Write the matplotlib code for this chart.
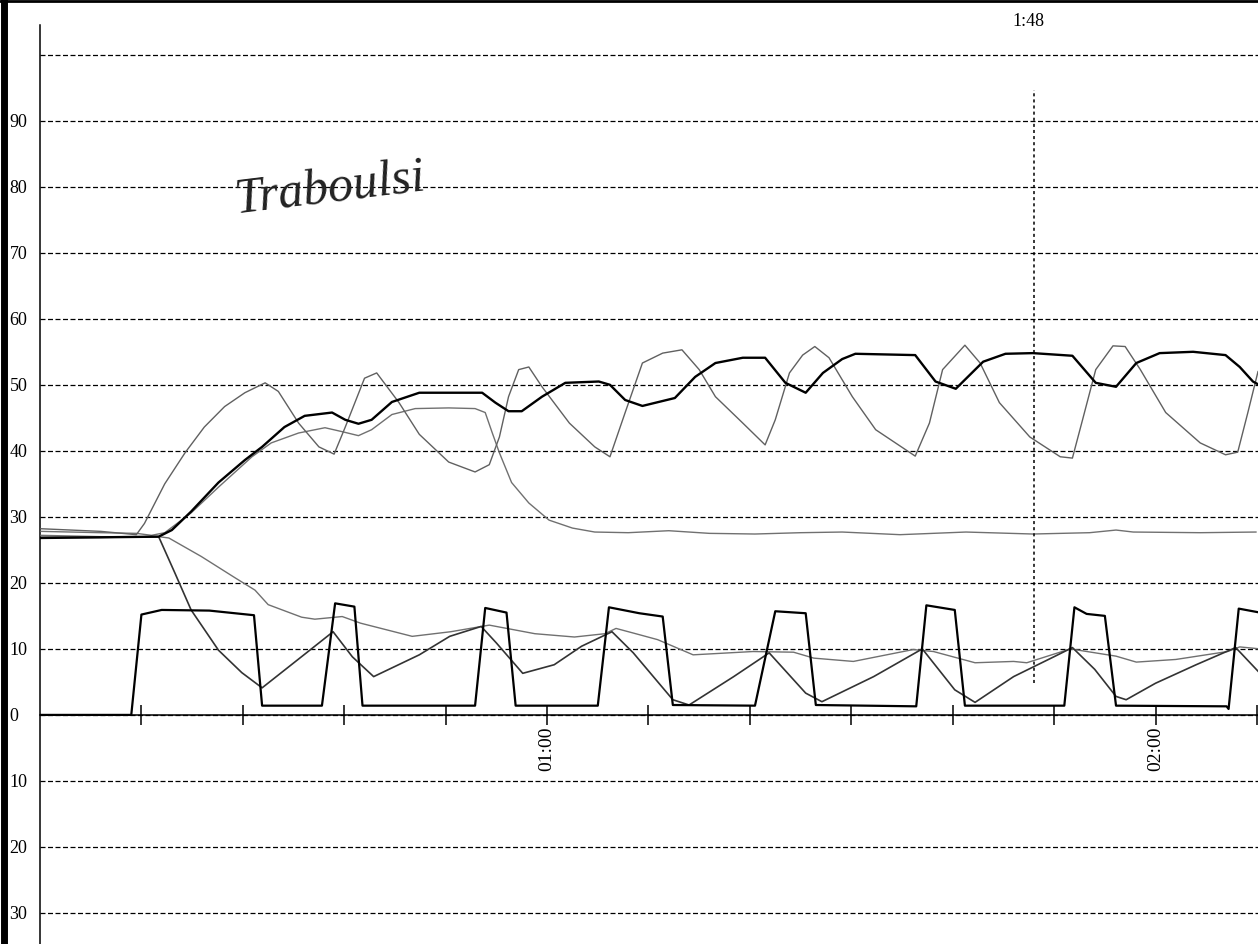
import matplotlib
matplotlib.use("Agg")
import matplotlib.pyplot as plt
from matplotlib.lines import Line2D

# --- recorded traces (time in minutes, value in chart units) ---
thick_upper_t = [10.1, 16.0, 21.7, 23.0, 24.9, 27.6, 30.2, 31.9, 34.1, 36.1,
                 38.8, 40.1, 41.4, 42.7, 44.7, 47.4, 50.3, 53.6, 54.9, 56.2,
                 57.5, 59.5, 61.8, 65.1, 66.2, 67.7, 69.4, 72.6, 74.6, 76.6,
                 79.3, 81.5, 83.5, 85.5, 87.2, 89.1, 90.4, 96.3, 98.3, 100.3,
                 103.0, 105.2, 107.9, 111.8, 114.1, 116.1, 118.1, 120.4, 123.7, 126.9,
                 128.3, 129.6, 130.2]
thick_upper_v = [26.8, 26.9, 27.0, 28.0, 30.8, 35.2, 38.6, 40.6, 43.6, 45.3,
                 45.8, 44.7, 44.1, 44.7, 47.4, 48.8, 48.8, 48.8, 47.3, 46.0,
                 46.0, 48.2, 50.3, 50.5, 50.0, 47.7, 46.8, 48.0, 51.2, 53.3,
                 54.1, 54.1, 50.3, 48.8, 51.8, 53.9, 54.7, 54.5, 50.5, 49.4,
                 53.5, 54.7, 54.8, 54.4, 50.3, 49.7, 53.3, 54.8, 55.0, 54.5,
                 52.7, 50.5, 50.0]

saw_upper_t = [10.1, 16.0, 19.5, 20.3, 22.3, 24.3, 26.2, 28.2, 30.2, 32.2,
               33.5, 35.5, 37.5, 39.0, 40.1, 42.0, 43.2, 45.4, 47.4, 50.3,
               52.9, 54.3, 55.3, 56.2, 57.2, 58.2, 59.5, 62.2, 64.7, 66.2,
               67.7, 69.4, 71.4, 73.3, 75.0, 76.6, 79.3, 81.5, 82.5, 83.9,
               85.2, 86.4, 87.8, 90.1, 92.4, 96.3, 97.7, 99.0, 101.2, 102.7,
               104.6, 107.6, 110.6, 111.8, 112.8, 114.1, 115.8, 117.0, 118.5, 121.0,
               124.4, 126.9, 128.1, 129.1, 130.1]
saw_upper_v = [28.2, 27.8, 27.3, 29.0, 35.0, 39.7, 43.6, 46.7, 48.8, 50.3,
               49.0, 44.2, 40.6, 39.5, 43.6, 51.0, 51.8, 47.3, 42.5, 38.3,
               36.8, 37.9, 42.1, 48.2, 52.3, 52.7, 49.7, 44.2, 40.6, 39.1,
               45.8, 53.3, 54.8, 55.3, 52.3, 48.2, 44.2, 40.9, 44.7, 51.8,
               54.5, 55.8, 54.1, 48.2, 43.2, 39.2, 44.2, 52.3, 56.0, 53.3,
               47.3, 42.1, 39.1, 38.9, 44.7, 52.3, 55.9, 55.8, 52.3, 45.8,
               41.2, 39.4, 39.8, 45.8, 52.0]

plateau_t = [10.1, 16.0, 19.5, 21.0, 22.3, 24.9, 27.6, 30.9, 32.8, 35.5,
             38.1, 39.8, 41.4, 42.7, 44.7, 47.0, 50.3, 52.9, 53.9, 54.6,
             55.3, 56.5, 58.2, 60.2, 62.5, 64.7, 68.0, 72.0, 76.0, 80.5,
             85.0, 89.1, 94.8, 101.3, 107.9, 113.5, 116.1, 117.8, 124.4, 129.9]
plateau_v = [27.8, 27.6, 27.5, 27.2, 27.6, 30.6, 34.5, 39.1, 41.2, 42.7,
             43.5, 42.9, 42.3, 43.2, 45.5, 46.4, 46.5, 46.4, 45.8, 42.7,
             39.7, 35.2, 32.1, 29.5, 28.3, 27.7, 27.6, 27.9, 27.5, 27.4,
             27.6, 27.7, 27.3, 27.7, 27.4, 27.6, 28.0, 27.7, 27.6, 27.7]

pulse_t = [10.1, 19.0, 20.0, 22.0, 26.7, 31.1, 31.9, 37.8, 39.1, 41.0,
           41.8, 52.9, 53.9, 56.0, 56.9, 65.0, 66.1, 69.1, 71.4, 72.4,
           80.5, 82.5, 85.5, 86.5, 96.4, 97.4, 100.2, 101.2, 111.0, 112.0,
           113.2, 115.0, 116.1, 127.0, 127.2, 128.2, 130.3]
pulse_v = [0.0, 0.0, 15.2, 15.9, 15.8, 15.1, 1.4, 1.4, 16.9, 16.4,
           1.4, 1.4, 16.2, 15.5, 1.4, 1.4, 16.3, 15.4, 14.9, 1.5,
           1.4, 15.7, 15.4, 1.5, 1.3, 16.6, 15.9, 1.4, 1.4, 16.3,
           15.3, 15.0, 1.4, 1.3, 0.9, 16.1, 15.5]

saw_lower_t = [10.1, 16.0, 21.7, 23.3, 24.9, 27.6, 29.9, 31.9, 36.6, 38.9,
               40.8, 42.9, 47.4, 50.4, 53.5, 55.0, 57.6, 60.7, 63.4, 66.4,
               68.5, 72.4, 74.0, 78.4, 81.9, 85.5, 87.1, 92.2, 97.0, 100.2,
               102.2, 106.0, 110.1, 111.8, 114.0, 116.1, 117.1, 120.0, 124.0, 127.9,
               130.3]
saw_lower_v = [26.9, 26.9, 27.0, 21.5, 15.9, 9.8, 6.4, 4.1, 9.8, 12.6,
               8.8, 5.8, 9.1, 11.9, 13.4, 10.9, 6.3, 7.6, 10.4, 12.6,
               9.4, 2.3, 1.5, 5.8, 9.4, 3.3, 2.0, 5.8, 10.0, 3.8,
               1.9, 5.8, 8.9, 10.2, 6.9, 2.8, 2.3, 4.8, 7.6, 10.2,
               6.3]

thin_lower_t = [10.1, 16.0, 21.7, 22.7, 25.9, 29.2, 31.2, 32.5, 35.8, 37.1,
                39.8, 41.6, 46.7, 50.5, 54.3, 58.8, 62.7, 65.7, 66.8, 68.5,
                70.9, 74.4, 80.3, 84.3, 86.3, 90.2, 96.1, 98.1, 102.2, 106.0,
                107.3, 111.6, 116.1, 118.1, 122.0, 127.1, 128.3, 130.3]
thin_lower_v = [27.2, 27.0, 27.0, 26.8, 24.0, 20.8, 18.9, 16.7, 14.8, 14.5,
                14.9, 13.9, 11.9, 12.6, 13.6, 12.3, 11.8, 12.3, 13.1, 12.4,
                11.4, 9.1, 9.6, 9.5, 8.6, 8.1, 9.9, 9.6, 7.9, 8.1,
                7.9, 10.0, 8.9, 8.0, 8.4, 9.6, 10.3, 10.0]

# --- axis annotations ---
grid_levels = [100, 90, 80, 70, 60, 50, 40, 30, 20, 10, 0, -10, -20, -30]
grid_labels = ["", "90", "80", "70", "60", "50", "40", "30", "20", "10", "0", "10", "20", "30"]
time_ticks = [20, 30, 40, 50, 60, 70, 80, 90, 100, 110, 120, 130]
time_labels = ["", "", "", "", "01:00", "", "", "", "", "", "02:00", ""]
marker_time = 108
marker_label = "1:48"
marker_span = (4.8, 94.7)
note_text = "Traboulsi"

serif = ["Liberation Serif", "DejaVu Serif"]

fig = plt.figure(figsize=(12.58, 9.44), dpi=100)
W, H = 1258, 944
ax = fig.add_axes([40 / W, 0.0, 1218 / W, 919 / H])
ax.set_xlim(10.0, 130.1)
ax.set_ylim(-34.7, 104.5)

# horizontal dashed grid
ax.set_yticks(grid_levels)
ax.set_yticklabels(grid_labels, family=serif, fontsize=13, ha="left")
ax.tick_params(axis="y", length=0, pad=22)
ax.grid(axis="y", color="black", linewidth=0.9, linestyle=(0, (4, 2)))
ax.set_axisbelow(True)

# time axis on the zero line
ax.spines["bottom"].set_position(("data", 0))
ax.spines["top"].set_visible(False)
ax.spines["right"].set_visible(False)
for s in ("bottom", "left"):
    ax.spines[s].set_linewidth(1.1)
ax.set_xticks(time_ticks)
ax.set_xticklabels(time_labels, family=serif, fontsize=14, rotation=90, va="top")
ax.tick_params(axis="x", direction="inout", length=14, width=1.1, pad=1)

# traces
ax.plot(plateau_t, plateau_v, color="#707070", lw=1.0, zorder=3)
ax.plot(thin_lower_t, thin_lower_v, color="#707070", lw=1.0, zorder=3)
ax.plot(saw_upper_t, saw_upper_v, color="#606060", lw=1.0, zorder=3)
ax.plot(saw_lower_t, saw_lower_v, color="#333333", lw=1.2, zorder=3)
ax.plot(thick_upper_t, thick_upper_v, color="black", lw=1.7, zorder=4)
ax.plot(pulse_t, pulse_v, color="black", lw=1.6, zorder=4)

# event marker
ax.vlines(marker_time, marker_span[0], marker_span[1], color="black",
          lw=1.1, linestyle=(0, (2, 2)), zorder=3)
ax.text(marker_time - 0.5, 105.0, marker_label, ha="center", va="center",
        family=serif, fontsize=13, clip_on=False)

# handwritten note
ax.text(38.6, 79.6, note_text, ha="center", va="center", family=serif,
        style="italic", fontsize=36, rotation=7, color="#222222")

# page edges
fig.add_artist(Line2D([4 / W, 4 / W], [0, 1], transform=fig.transFigure,
                      color="black", lw=5))
fig.add_artist(Line2D([0, 1], [1 - 1 / H, 1 - 1 / H], transform=fig.transFigure,
                      color="black", lw=2))

fig.savefig("out.png", dpi=100)
